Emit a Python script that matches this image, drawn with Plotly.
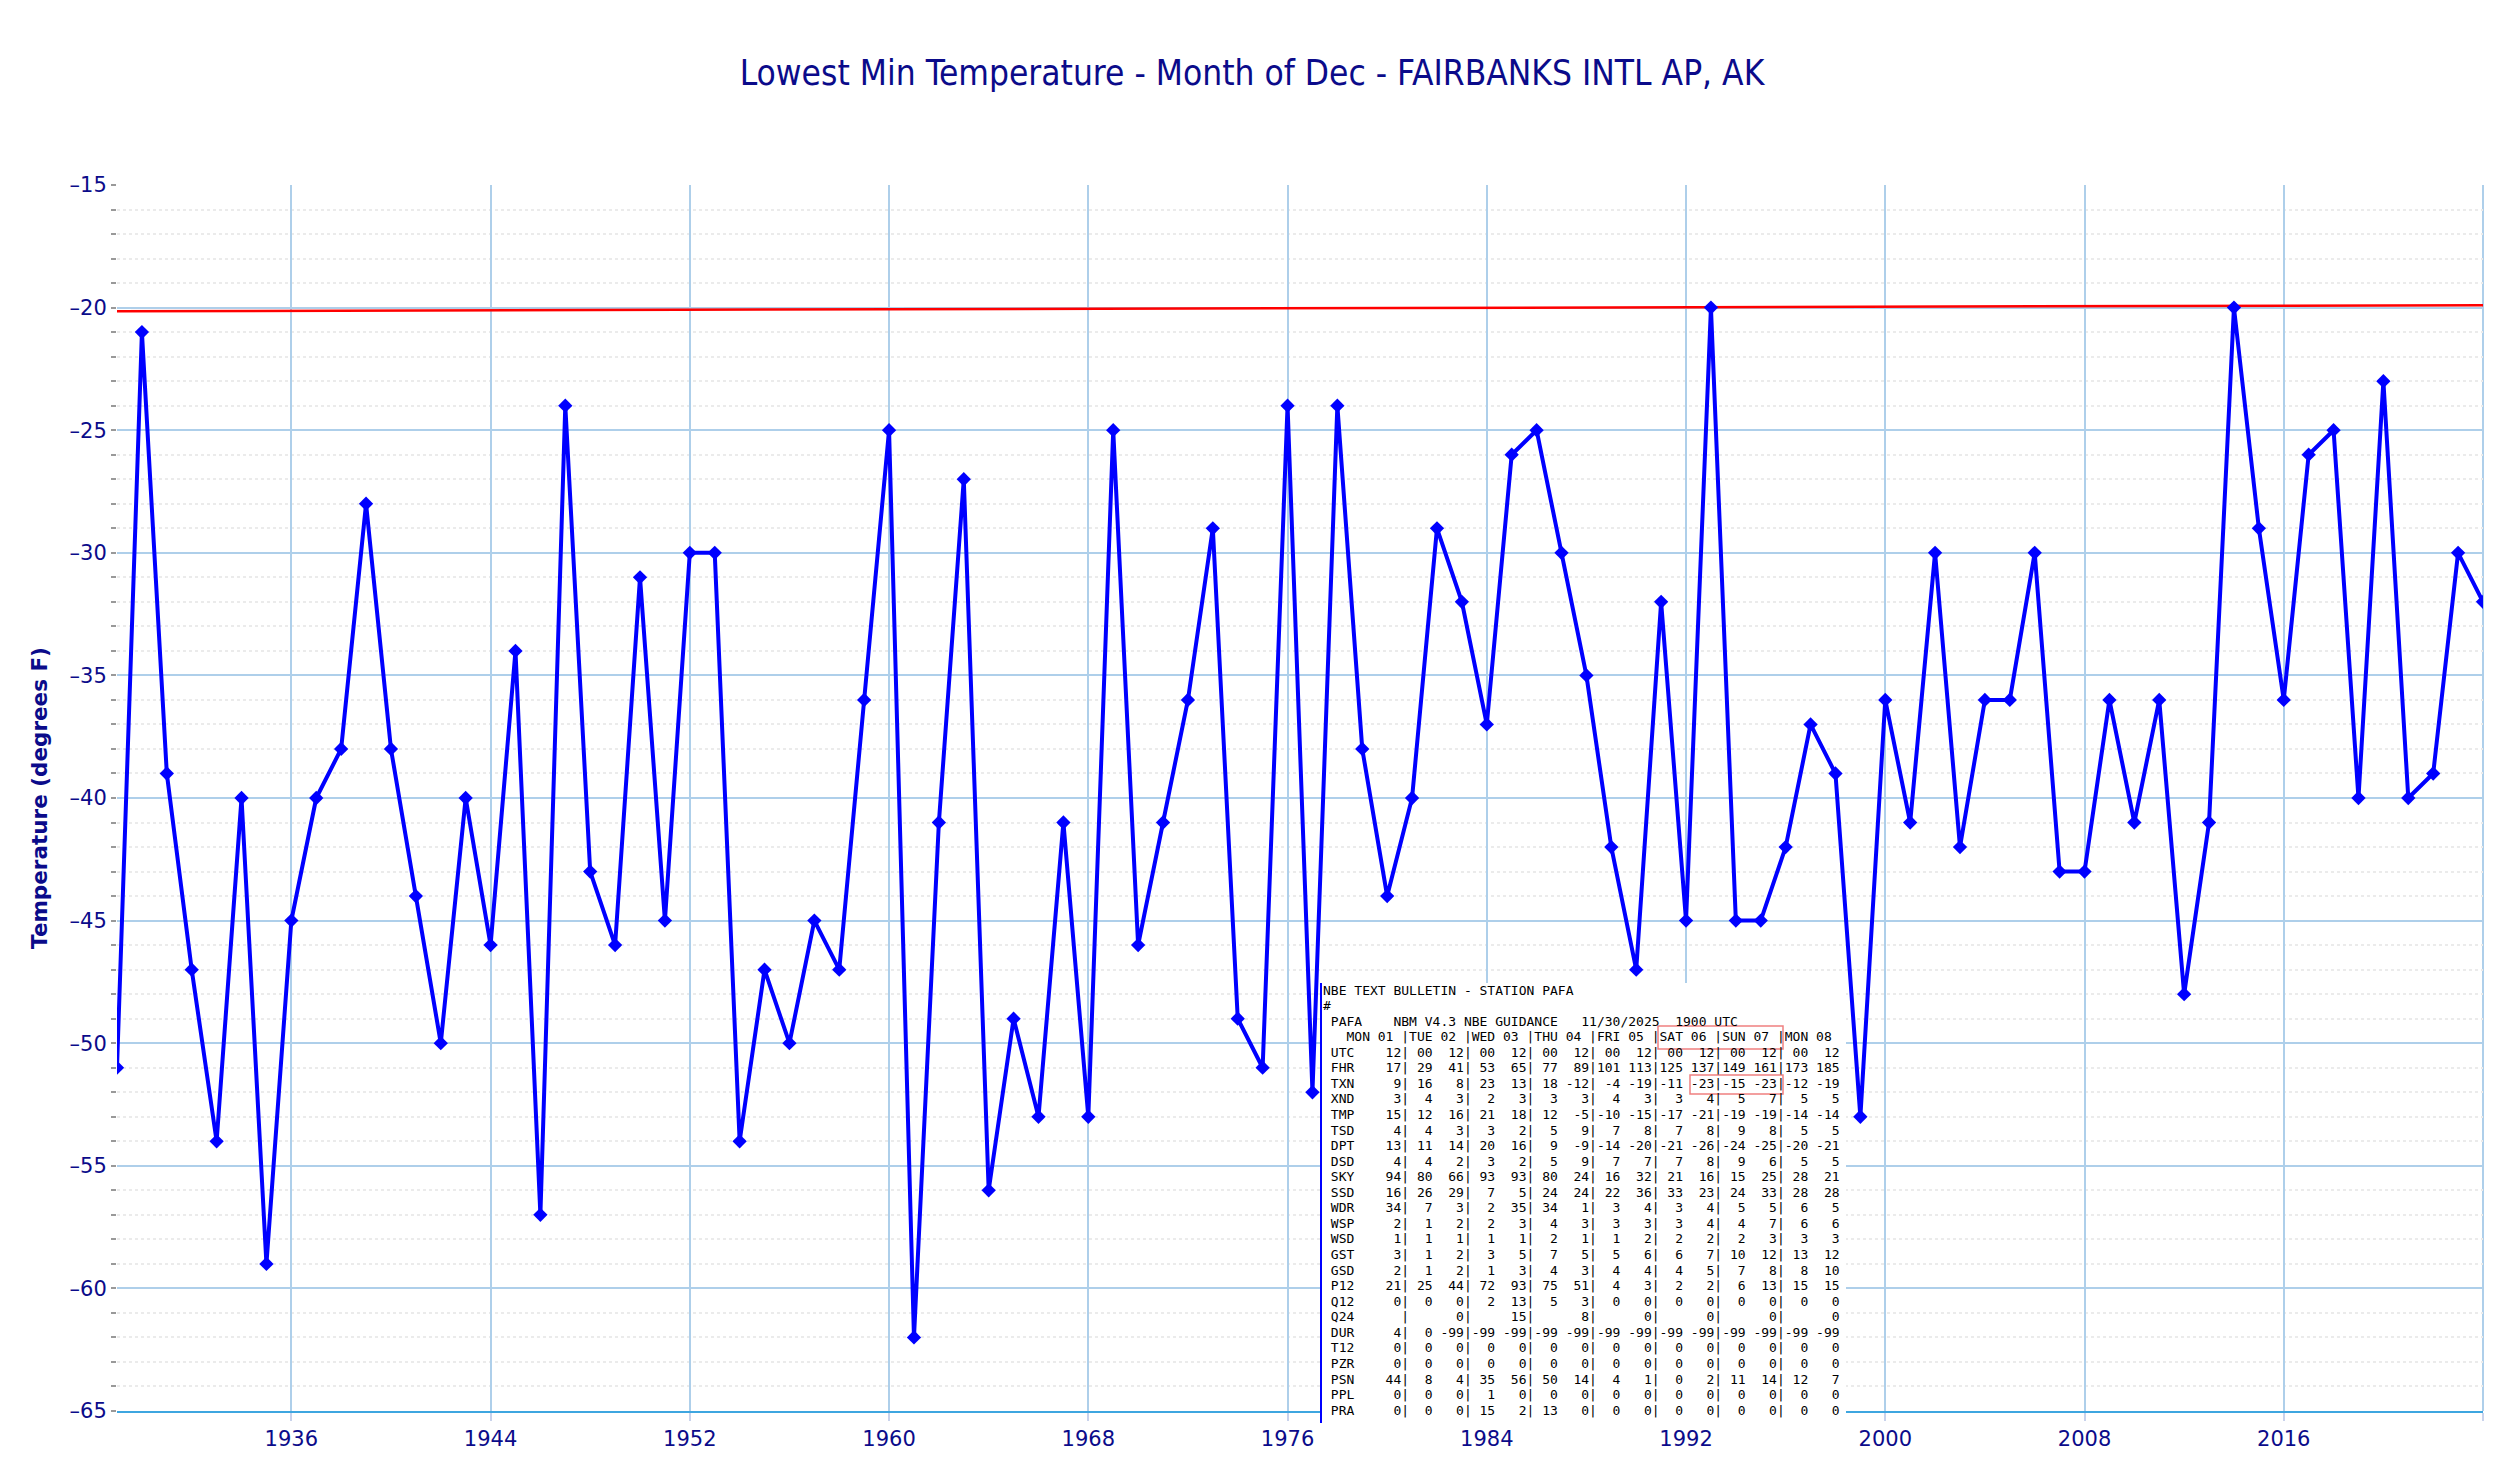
import plotly.graph_objects as go

# Data
years = list(range(1929, 2025))
lowest_min = [
    -51, -21, -39, -47, -54, -40, -59, -45, -40, -38,   # 1929-1938
    -28, -38, -44, -50, -40, -46, -34, -57, -24, -43,   # 1939-1948
    -46, -31, -45, -30, -30, -54, -47, -50, -45, -47,   # 1949-1958
    -36, -25, -62, -41, -27, -56, -49, -53, -41, -53,   # 1959-1968
    -25, -46, -41, -36, -29, -49, -51, -24, -52, -24,   # 1969-1978
    -38, -44, -40, -29, -32, -37, -26, -25, -30, -35,   # 1979-1988
    -42, -47, -32, -45, -20, -45, -45, -42, -37, -39,   # 1989-1998
    -53, -36, -41, -30, -42, -36, -36, -30, -43, -43,   # 1999-2008
    -36, -41, -36, -48, -41, -20, -29, -36, -26, -25,   # 2009-2018
    -40, -23, -40, -39, -30, -32,                       # 2019-2024
]
ref_x = [1929, 2024]
ref_y = [-20.15, -19.9]

y_tick_vals = [-65, -60, -55, -50, -45, -40, -35, -30, -25, -20, -15]
y_tick_text = ["\u201365", "\u201360", "\u201355", "\u201350", "\u201345", "\u201340",
               "\u201335", "\u201330", "\u201325", "\u201320", "\u201315"]

bulletin_lines = [
    "NBE TEXT BULLETIN - STATION PAFA",
    "#",
    " PAFA    NBM V4.3 NBE GUIDANCE   11/30/2025  1900 UTC",
    "   MON 01 |TUE 02 |WED 03 |THU 04 |FRI 05 |SAT 06 |SUN 07 |MON 08",
    " UTC    12| 00  12| 00  12| 00  12| 00  12| 00  12| 00  12| 00  12",
    " FHR    17| 29  41| 53  65| 77  89|101 113|125 137|149 161|173 185",
    " TXN     9| 16   8| 23  13| 18 -12| -4 -19|-11 -23|-15 -23|-12 -19",
    " XND     3|  4   3|  2   3|  3   3|  4   3|  3   4|  5   7|  5   5",
    " TMP    15| 12  16| 21  18| 12  -5|-10 -15|-17 -21|-19 -19|-14 -14",
    " TSD     4|  4   3|  3   2|  5   9|  7   8|  7   8|  9   8|  5   5",
    " DPT    13| 11  14| 20  16|  9  -9|-14 -20|-21 -26|-24 -25|-20 -21",
    " DSD     4|  4   2|  3   2|  5   9|  7   7|  7   8|  9   6|  5   5",
    " SKY    94| 80  66| 93  93| 80  24| 16  32| 21  16| 15  25| 28  21",
    " SSD    16| 26  29|  7   5| 24  24| 22  36| 33  23| 24  33| 28  28",
    " WDR    34|  7   3|  2  35| 34   1|  3   4|  3   4|  5   5|  6   5",
    " WSP     2|  1   2|  2   3|  4   3|  3   3|  3   4|  4   7|  6   6",
    " WSD     1|  1   1|  1   1|  2   1|  1   2|  2   2|  2   3|  3   3",
    " GST     3|  1   2|  3   5|  7   5|  5   6|  6   7| 10  12| 13  12",
    " GSD     2|  1   2|  1   3|  4   3|  4   4|  4   5|  7   8|  8  10",
    " P12    21| 25  44| 72  93| 75  51|  4   3|  2   2|  6  13| 15  15",
    " Q12     0|  0   0|  2  13|  5   3|  0   0|  0   0|  0   0|  0   0",
    " Q24      |      0|     15|      8|      0|      0|      0|      0",
    " DUR     4|  0 -99|-99 -99|-99 -99|-99 -99|-99 -99|-99 -99|-99 -99",
    " T12     0|  0   0|  0   0|  0   0|  0   0|  0   0|  0   0|  0   0",
    " PZR     0|  0   0|  0   0|  0   0|  0   0|  0   0|  0   0|  0   0",
    " PSN    44|  8   4| 35  56| 50  14|  4   1|  0   2| 11  14| 12   7",
    " PPL     0|  0   0|  1   0|  0   0|  0   0|  0   0|  0   0|  0   0",
    " PRA     0|  0   0| 15   2| 13   0|  0   0|  0   0|  0   0|  0   0",
]

NAVY = "#0b0b8a"
GRID = "#aecfea"

# page has an 8px body margin; work in page pixels and shift
OFF = 8
W, H = 2502 - OFF, 1472 - OFF
L, R, T, B = 117 - OFF, 2483 - OFF, 185 - OFF, 1411 - OFF


def px(xp):
    return (xp - OFF - L) / (R - L)


def py(yp):
    return (B - (yp - OFF)) / (B - T)


fig = go.Figure()

fig.add_trace(go.Scatter(x=ref_x, y=ref_y, mode="lines",
                         line=dict(color="#ff0000", width=2.5),
                         showlegend=False, hoverinfo="skip"))

fig.add_trace(go.Scatter(x=years, y=lowest_min, mode="lines+markers",
                         line=dict(color="#0000ff", width=4),
                         marker=dict(symbol="diamond", size=11, color="#0000ff"),
                         showlegend=False))

fig.update_layout(
    width=W, height=H,
    paper_bgcolor="white", plot_bgcolor="white",
    margin=dict(l=L, r=W - R, t=T, b=H - B),
    title=dict(text="Lowest Min Temperature - Month of Dec - FAIRBANKS INTL AP, AK",
               x=(1252 - OFF) / W, xanchor="center", y=1 - (73 - OFF) / H, yanchor="middle",
               font=dict(family="DejaVu Sans Condensed, Open Sans", size=35, color=NAVY)),
    font=dict(family="DejaVu Sans", color=NAVY),
)

fig.update_xaxes(
    range=[1929, 2024], tick0=1936, dtick=8,
    showgrid=True, gridcolor=GRID, gridwidth=2,
    showline=True, linecolor="#3ea6e0", linewidth=2,
    ticks="outside", ticklen=8, tickcolor="#c9d3ec", tickwidth=2,
    tickfont=dict(size=21, color=NAVY, family="DejaVu Sans"),
    zeroline=False,
)

fig.update_yaxes(
    range=[-65, -15], tickvals=y_tick_vals, ticktext=y_tick_text,
    showgrid=True, gridcolor=GRID, gridwidth=2,
    ticks="outside", ticklen=5, tickcolor="#999999", tickwidth=2,
    tickfont=dict(size=21, color=NAVY, family="DejaVu Sans"),
    minor=dict(dtick=1, showgrid=True, gridcolor="#ebebeb", griddash="dot",
               gridwidth=1.5, ticks="outside", ticklen=5, tickcolor="#999999"),
    title=dict(text="<b>Temperature (degrees F)</b>", standoff=16,
               font=dict(size=21.5, color=NAVY, family="DejaVu Sans")),
    zeroline=False,
)

# right-edge gridline at 2024
fig.add_shape(type="line", xref="paper", yref="paper", x0=1, x1=1, y0=0, y1=1,
              line=dict(color=GRID, width=2), layer="below")

# pasted NBE bulletin box
fig.add_shape(type="rect", xref="paper", yref="paper",
              x0=px(1321), x1=px(1846), y0=py(1423), y1=py(983),
              fillcolor="white", line=dict(width=0), layer="above")
fig.add_shape(type="line", xref="paper", yref="paper",
              x0=px(1321), x1=px(1321), y0=py(1423), y1=py(983),
              line=dict(color="#0000ff", width=2), layer="above")
fig.add_shape(type="rect", xref="paper", yref="paper",
              x0=px(1658), x1=px(1783), y0=py(1049), y1=py(1026),
              line=dict(color="#f08080", width=1.5), layer="above")
fig.add_shape(type="rect", xref="paper", yref="paper",
              x0=px(1690), x1=px(1783), y0=py(1094), y1=py(1075),
              line=dict(color="#f08080", width=1.5), layer="above")

# one annotation per bulletin line, 15.56 px apart
for i, line in enumerate(bulletin_lines):
    fig.add_annotation(
        xref="paper", yref="paper", x=px(1322), y=py(990 + i * 15.56),
        xanchor="left", yanchor="middle", align="left", showarrow=False,
        text=line.replace(" ", "\u00a0"),
        font=dict(family="DejaVu Sans Mono", size=13, color="#000000"),
        borderpad=0,
    )

fig.write_html("out.html")
